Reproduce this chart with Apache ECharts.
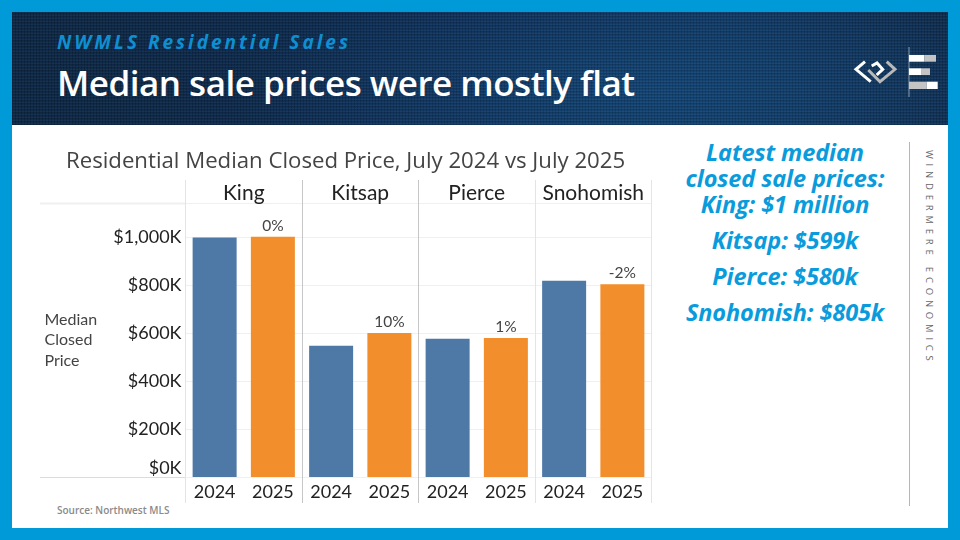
<!DOCTYPE html>
<html>
<head>
<meta charset="utf-8">
<title>Median sale prices were mostly flat</title>
<script src="https://cdn.jsdelivr.net/npm/echarts@6/dist/echarts.min.js"></script>
<style>
    html, body { margin: 0; padding: 0; }
    #slide { position: relative; width: 960px; height: 540px; background: #009ad9; overflow: hidden; font-family: "Open Sans", sans-serif; }
    #paper { position: absolute; left: 12px; top: 12px; width: 936px; height: 516px; background: #fff; }
    #banner {
      position: absolute; left: 12px; top: 12px; width: 936px; height: 113px;
      background:
        repeating-linear-gradient(0deg, rgba(0,0,0,.16) 0 1px, rgba(255,255,255,.02) 1px 2px, rgba(0,0,0,.06) 2px 3px),
        repeating-linear-gradient(90deg, rgba(0,0,0,.08) 0 1px, rgba(120,170,220,.04) 1px 3px),
        radial-gradient(ellipse 430px 130px at 650px 80px, #144778 0%, rgba(20,71,120,0) 100%),
        linear-gradient(90deg, #0e2846 0%, #0f2e56 50%, #113863 75%, #0f2a4a 100%);
    }
    #kicker { position: absolute; left: 57px; top: 29px; color: #0f8fd2; font: italic 700 19px "Open Sans", sans-serif; letter-spacing: 3px; white-space: nowrap; }
    #headline { position: absolute; left: 57px; top: 59px; color: #fff; font: 600 35px "Open Sans", sans-serif; letter-spacing: -0.5px; white-space: nowrap; }
    #logo { position: absolute; left: 850px; top: 44px; }
    #callout { position: absolute; left: 664px; top: 139px; width: 242px; text-align: center; color: #0a9bdc; font: italic 700 23.5px/26px "Open Sans", sans-serif; letter-spacing: -0.1px; }
    #callout div { margin-bottom: 10px; }
    #rule { position: absolute; left: 909px; top: 142px; width: 1px; height: 364px; background: #b5b5b5; }
    #brand { position: absolute; left: 923px; top: 150px; writing-mode: vertical-rl; color: #666; font: 9.5px "Open Sans", sans-serif; letter-spacing: 4.8px; white-space: nowrap; }
    #source { position: absolute; left: 57px; top: 503px; color: #8a8a8a; font: 600 10px "Open Sans", sans-serif; white-space: nowrap; }
    #main { position: absolute; left: 0; top: 0; width: 960px; height: 540px; }
</style>
</head>
<body>
<div id="slide">
    <div id="paper"></div>
    <div id="banner"></div>
    <div id="kicker">NWMLS Residential Sales</div>
    <div id="headline">Median sale prices were mostly flat</div>
    <svg id="logo" width="92" height="56" viewBox="0 0 92 56">
        <polyline points="18.3,26 30,37.7 45,25.3 36.7,17.7" fill="none" stroke="#b9b9b9" stroke-width="3"/>
        <polyline points="15,17.7 6,25.3 20.7,37.7" fill="none" stroke="#fff" stroke-width="3"/>
        <polyline points="21.7,22 27,19 32.7,25.3 26.7,31" fill="none" stroke="#fff" stroke-width="3"/>
        <rect x="58.5" y="3" width="1" height="50" fill="#8a9bb0"/>
        <rect x="59" y="11" width="15.5" height="6.7" fill="#fff"/><rect x="74.5" y="11" width="11.5" height="6.7" fill="#c4c4c4"/>
        <rect x="59" y="24.3" width="12.7" height="6.7" fill="#fff"/><rect x="71.7" y="24.3" width="8.3" height="6.7" fill="#c4c4c4"/>
        <rect x="59" y="37.7" width="17.7" height="7.3" fill="#c4c4c4"/><rect x="76.7" y="37.7" width="11" height="7.3" fill="#fff"/>
    </svg>
    <div id="callout"></div>
    <div id="rule"></div>
    <div id="brand">WINDERMERE ECONOMICS</div>
    <div id="source">Source: Northwest MLS</div>
    <div id="main"></div>
</div>
<script type="text/javascript">
    var counties = ['King', 'Kitsap', 'Pierce', 'Snohomish'];
    var years = ['2024', '2025'];
    var price2024 = [1000, 548, 577, 819];
    var price2025 = [1003, 601, 580, 805];
    var changes = ['0%', '10%', '1%', '-2%'];
    var callouts = [
        'Latest median<br>closed sale prices:<br>King: $1 million',
        'Kitsap: $599k',
        'Pierce: $580k',
        'Snohomish: $805k'
    ];

    document.getElementById('callout').innerHTML = callouts.map(function(c) {
        return '<div>' + c + '</div>';
    }).join('');

    var gridLeft = 185.5, gridTop = 203.5, gridWidth = 466, gridHeight = 273.5;
    var panelWidth = gridWidth / counties.length;
    var blue = '#4e79a7', orange = '#f28e2b';

    var categories = [], bars = [];
    counties.forEach(function(c, i) {
        categories.push(years[0], years[1]);
        bars.push({ value: price2024[i], itemStyle: { color: blue } });
        bars.push({ value: price2025[i], itemStyle: { color: orange }, change: changes[i] });
    });

    // panel separators, the middle two are darker in the original
    var sepColors = ['#e4e4e4', '#c6c6c6', '#c6c6c6', '#e4e4e4', '#e4e4e4'];
    var frame = sepColors.map(function(color, i) {
        var x = Math.floor(gridLeft + i * panelWidth) + 0.5;
        return { type: 'line', z: 5, shape: { x1: x, y1: 180, x2: x, y2: 503 }, style: { stroke: color, lineWidth: 1 } };
    });
    // top line and baseline run on under the axis labels
    frame.push({ type: 'line', shape: { x1: 40, y1: gridTop, x2: gridLeft, y2: gridTop }, style: { stroke: '#f0f0f0', lineWidth: 2 } });
    frame.push({ type: 'line', shape: { x1: 40, y1: 477.5, x2: gridLeft + gridWidth, y2: 477.5 }, style: { stroke: '#dcdcdc', lineWidth: 1 } });

    var myChart = echarts.init(document.getElementById('main'));
    var option = {
        animation: false,
        title: {
            text: 'Residential Median Closed Price, July 2024 vs July 2025',
            left: 61,
            top: 146,
            textStyle: { color: '#444', fontFamily: 'Open Sans', fontWeight: 400, fontSize: 22.2 }
        },
        grid: { left: gridLeft, top: gridTop, width: gridWidth, height: gridHeight },
        xAxis: [
            {
                type: 'category',
                data: categories,
                axisLine: { show: false },
                axisTick: { show: false },
                axisLabel: { interval: 0, margin: 6, color: '#222', fontFamily: 'Lato', fontSize: 18 }
            },
            {
                type: 'category',
                position: 'top',
                data: counties,
                axisLine: { show: false },
                axisTick: { show: false },
                axisLabel: { interval: 0, margin: 0, color: '#222', fontFamily: 'Lato', fontSize: 21 }
            }
        ],
        yAxis: {
            type: 'value',
            min: 0,
            max: 1142,
            interval: 200,
            name: 'Median\nClosed\nPrice',
            nameLocation: 'middle',
            nameRotate: 0,
            nameGap: 141,
            nameTextStyle: { align: 'left', color: '#444', fontFamily: 'Lato', fontSize: 16, lineHeight: 20.5 },
            axisLine: { show: false },
            axisTick: { show: false },
            splitLine: { lineStyle: { color: '#f0f0f0' } },
            axisLabel: {
                margin: 4,
                padding: [3, 0, 0, 0],
                showMaxLabel: false,
                verticalAlignMinLabel: 'bottom',
                color: '#222',
                fontFamily: 'Lato',
                fontSize: 18,
                formatter: function(v) {
                    return '$' + v.toLocaleString('en-US') + 'K';
                }
            }
        },
        series: [{
            type: 'bar',
            barWidth: 44,
            data: bars,
            label: {
                show: true,
                position: 'top',
                distance: 3,
                color: '#444',
                fontFamily: 'Lato',
                fontSize: 15.5,
                formatter: function(p) {
                    return p.data.change || '';
                }
            }
        }],
        graphic: frame
    };
    myChart.setOption(option);
</script>
</body>
</html>
